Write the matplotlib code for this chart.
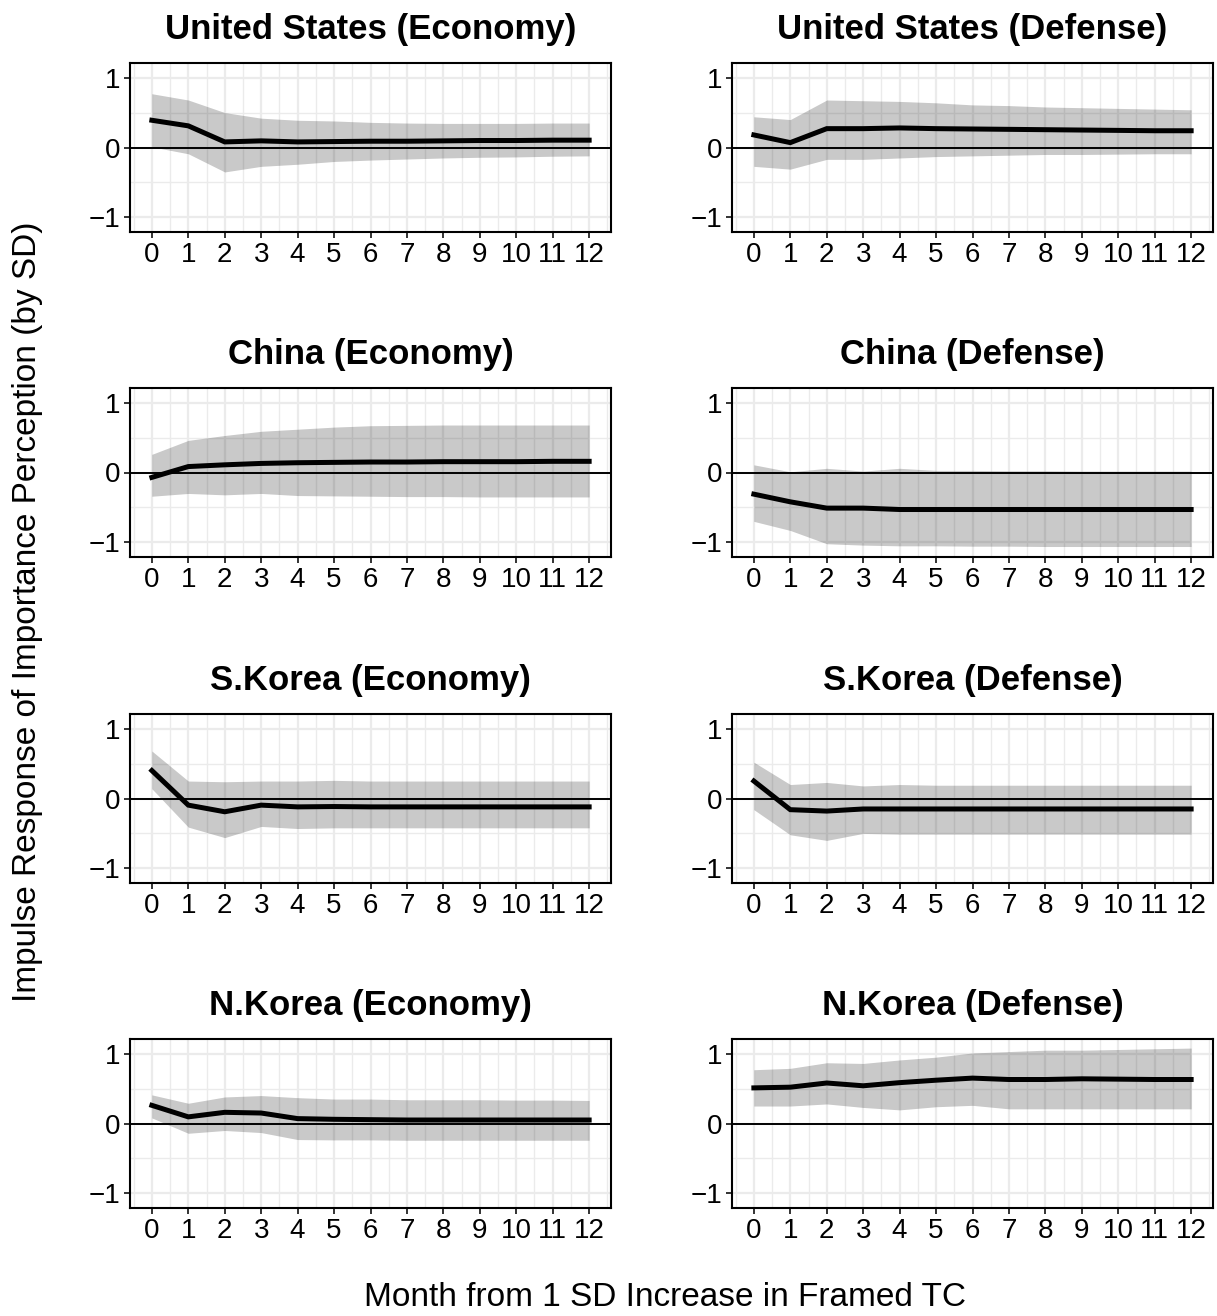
import matplotlib
matplotlib.use("Agg")
import matplotlib.pyplot as plt
import numpy as np

plt.rcParams['font.family'] = ['Liberation Sans', 'DejaVu Sans']

months = np.arange(13)
titles = ["United States (Economy)", "United States (Defense)",
          "China (Economy)", "China (Defense)",
          "S.Korea (Economy)", "S.Korea (Defense)",
          "N.Korea (Economy)", "N.Korea (Defense)"]

# impulse response, lower and upper bounds per panel
us_eco = [0.39, 0.31, 0.08, 0.095, 0.08, 0.085, 0.09, 0.09, 0.095, 0.10, 0.10, 0.105, 0.105]
us_eco_lo = [0.01, -0.09, -0.35, -0.27, -0.24, -0.20, -0.18, -0.165, -0.15, -0.14, -0.135, -0.125, -0.12]
us_eco_hi = [0.77, 0.68, 0.50, 0.42, 0.39, 0.38, 0.36, 0.35, 0.345, 0.345, 0.345, 0.35, 0.35]

us_def = [0.18, 0.07, 0.27, 0.27, 0.28, 0.27, 0.265, 0.26, 0.255, 0.25, 0.245, 0.24, 0.24]
us_def_lo = [-0.27, -0.31, -0.17, -0.17, -0.15, -0.13, -0.12, -0.11, -0.10, -0.10, -0.095, -0.09, -0.09]
us_def_hi = [0.44, 0.40, 0.68, 0.67, 0.66, 0.64, 0.61, 0.60, 0.58, 0.57, 0.56, 0.55, 0.54]

cn_eco = [-0.07, 0.085, 0.11, 0.13, 0.14, 0.145, 0.15, 0.15, 0.155, 0.155, 0.155, 0.16, 0.16]
cn_eco_lo = [-0.34, -0.30, -0.32, -0.30, -0.33, -0.335, -0.34, -0.345, -0.345, -0.35, -0.35, -0.35, -0.35]
cn_eco_hi = [0.26, 0.46, 0.53, 0.59, 0.62, 0.65, 0.67, 0.675, 0.68, 0.68, 0.68, 0.68, 0.68]

cn_def = [-0.31, -0.42, -0.51, -0.51, -0.53, -0.53, -0.53, -0.53, -0.53, -0.53, -0.53, -0.53, -0.53]
cn_def_lo = [-0.70, -0.83, -1.02, -1.04, -1.05, -1.05, -1.055, -1.055, -1.06, -1.06, -1.06, -1.06, -1.06]
cn_def_hi = [0.11, 0.01, 0.06, 0.02, 0.06, 0.03, 0.03, 0.025, 0.025, 0.02, 0.02, 0.02, 0.02]

sk_eco = [0.40, -0.095, -0.19, -0.095, -0.12, -0.115, -0.12, -0.12, -0.12, -0.12, -0.12, -0.12, -0.12]
sk_eco_lo = [0.14, -0.41, -0.56, -0.40, -0.43, -0.42, -0.42, -0.42, -0.42, -0.42, -0.42, -0.42, -0.42]
sk_eco_hi = [0.68, 0.25, 0.24, 0.25, 0.25, 0.26, 0.25, 0.25, 0.25, 0.25, 0.25, 0.25, 0.25]

sk_def = [0.25, -0.16, -0.18, -0.15, -0.15, -0.15, -0.15, -0.15, -0.15, -0.15, -0.15, -0.15, -0.15]
sk_def_lo = [-0.16, -0.52, -0.60, -0.50, -0.51, -0.51, -0.51, -0.51, -0.51, -0.51, -0.51, -0.51, -0.51]
sk_def_hi = [0.52, 0.20, 0.23, 0.18, 0.20, 0.19, 0.19, 0.19, 0.19, 0.19, 0.19, 0.19, 0.19]

nk_eco = [0.26, 0.095, 0.16, 0.15, 0.07, 0.06, 0.055, 0.05, 0.05, 0.05, 0.05, 0.05, 0.05]
nk_eco_lo = [0.08, -0.14, -0.10, -0.13, -0.23, -0.235, -0.235, -0.24, -0.24, -0.24, -0.24, -0.24, -0.24]
nk_eco_hi = [0.41, 0.29, 0.38, 0.40, 0.37, 0.35, 0.35, 0.34, 0.34, 0.34, 0.335, 0.335, 0.33]

nk_def = [0.51, 0.52, 0.58, 0.54, 0.585, 0.62, 0.65, 0.63, 0.63, 0.64, 0.635, 0.63, 0.63]
nk_def_lo = [0.25, 0.25, 0.28, 0.23, 0.195, 0.24, 0.26, 0.21, 0.21, 0.21, 0.21, 0.21, 0.21]
nk_def_hi = [0.77, 0.79, 0.87, 0.86, 0.91, 0.95, 1.01, 1.03, 1.05, 1.05, 1.06, 1.07, 1.08]

irf = [us_eco, us_def, cn_eco, cn_def, sk_eco, sk_def, nk_eco, nk_def]
lower = [us_eco_lo, us_def_lo, cn_eco_lo, cn_def_lo, sk_eco_lo, sk_def_lo, nk_eco_lo, nk_def_lo]
upper = [us_eco_hi, us_def_hi, cn_eco_hi, cn_def_hi, sk_eco_hi, sk_def_hi, nk_eco_hi, nk_def_hi]

W, H = 1217, 1316
fig = plt.figure(figsize=(W / 100, H / 100), dpi=100)

lefts = [130, 732]
pw, ph = 481, 169
tops = [63, 388, 714, 1039]

for k in range(8):
    r, c = divmod(k, 2)
    ax = fig.add_axes([lefts[c] / W, 1 - (tops[r] + ph) / H, pw / W, ph / H])
    ax.set_xlim(-0.6, 12.6)
    ax.set_ylim(-1.21, 1.21)
    ax.set_xticks(months)
    ax.set_xticks(np.arange(-0.5, 12.6, 0.5), minor=True)
    ax.set_yticks([-1, 0, 1])
    ax.set_yticklabels(['\u22121', '0', '1'])
    ax.set_yticks([-0.5, 0.5], minor=True)
    ax.grid(which='major', color='#EBEBEB', linewidth=1.6, zorder=0)
    ax.grid(which='minor', color='#EBEBEB', linewidth=1.0, zorder=0)
    ax.set_axisbelow(True)
    ax.tick_params(which='major', direction='out', length=4, width=1.4,
                   labelsize=20, pad=3, colors='#333333', labelcolor='black')
    ax.tick_params(which='minor', length=0)
    for s in ax.spines.values():
        s.set_linewidth(1.5)
        s.set_color('black')
    ax.fill_between(months, lower[k], upper[k], color='black', alpha=0.21,
                    linewidth=0, zorder=2)
    ax.axhline(0, color='black', linewidth=1.4, zorder=3)
    ax.plot(months, irf[k], color='black', linewidth=3.6, zorder=4,
            solid_joinstyle='miter')
    ax.set_title(titles[k], fontsize=25, fontweight='bold', pad=17)

fig.text(665 / W, 1 - 1298 / H, 'Month from 1 SD Increase in Framed TC',
         ha='center', va='center', fontsize=24)
fig.text(28 / W, 1 - 612 / H, 'Impulse Response of Importance Perception (by SD)',
         ha='center', va='center', rotation=90, fontsize=24)

fig.savefig('out.png', dpi=100)
